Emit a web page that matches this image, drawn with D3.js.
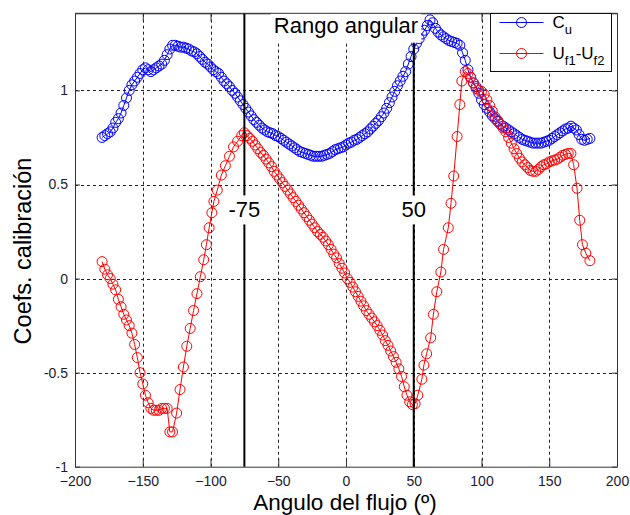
<!DOCTYPE html>
<html>
<head>
<meta charset="utf-8">
<script src="https://cdn.jsdelivr.net/npm/d3@7"></script>
<style>
  body { margin: 0; background: #fff; }
  text { font-family: "Liberation Sans", Arial, sans-serif; }
</style>
</head>
<body>
<div id="chart"></div>
<script>
// angles (deg) and values
const cuAngles = [
  -180,-178,-176,-174,-172,-170,-168,-166,-164,-162,-160,-158,-156,-154,-152,-150,-148,-146,-144,-142,
  -140,-138,-136,-134,-132,-130,-128,-126,-124,-122,-120,-118,-116,-114,-112,-110,-108,-106,-104,-102,
  -100,-98,-96,-94,-92,-90,-88,-86,-84,-82,-80,-78,-76,-74,-72,-70,-68,-66,-64,-62,
  -60,-58,-56,-54,-52,-50,-48,-46,-44,-42,-40,-38,-36,-34,-32,-30,-28,-26,-24,-22,
  -20,-18,-16,-14,-12,-10,-8,-6,-4,-2,0,2,4,6,8,10,12,14,16,18,
  20,22,24,26,28,30,32,34,36,38,40,42,44,46,48,50,52,54,56,58,
  60,62,64,66,68,70,72,74,76,78,80,82,84,86,88,90,92,94,96,98,
  100,102,104,106,108,110,112,114,116,118,120,122,124,126,128,130,132,134,136,138,
  140,142,144,146,148,150,152,154,156,158,160,162,164,166,168,170,172,174,176,178,180
];
const cuValues = [
  0.75,0.76,0.77,0.78,0.80,0.83,0.85,0.88,0.92,0.96,1.00,1.03,1.05,1.07,1.09,1.11,1.12,1.11,1.10,1.11,
  1.12,1.13,1.14,1.16,1.19,1.22,1.24,1.24,1.235,1.23,1.23,1.225,1.22,1.21,1.205,1.195,1.18,1.165,1.15,1.14,
  1.125,1.11,1.10,1.09,1.07,1.05,1.035,1.02,1.00,0.985,0.965,0.945,0.925,0.905,0.885,0.865,0.845,0.83,0.815,0.80,
  0.79,0.78,0.775,0.77,0.76,0.755,0.745,0.735,0.725,0.715,0.705,0.695,0.685,0.675,0.67,0.665,0.66,0.655,0.65,0.65,
  0.65,0.65,0.655,0.66,0.665,0.675,0.685,0.69,0.695,0.70,0.71,0.72,0.725,0.735,0.74,0.75,0.76,0.77,0.78,0.795,
  0.81,0.825,0.84,0.86,0.88,0.905,0.935,0.965,0.995,1.025,1.05,1.075,1.10,1.14,1.18,1.22,1.25,1.275,1.30,1.32,
  1.345,1.375,1.36,1.33,1.31,1.295,1.285,1.275,1.265,1.26,1.255,1.25,1.24,1.20,1.16,1.11,1.07,1.04,1.02,0.985,
  0.95,0.925,0.905,0.885,0.865,0.85,0.835,0.82,0.81,0.80,0.79,0.78,0.77,0.76,0.75,0.74,0.735,0.73,0.725,0.72,
  0.72,0.72,0.72,0.725,0.73,0.735,0.745,0.755,0.765,0.775,0.785,0.795,0.80,0.81,0.80,0.79,0.765,0.74,0.735,0.74,0.745
];

const ufAngles = [
  -180,-178,-176,-174,-172,-170,-168,-166,-164,-162,-160,-158,-156,-154,-152,-150,-148,-146,-144,-142,
  -140,-138,-136,-134,-132,-130,-128,-125,-122.5,-120,-117.5,-115,-112.5,-110,-107.5,-105,-103,-101,-99,-97.5,
  -95,-92,-89,-86,-83,-80,-77,-75,-73,-71,-69,-67,-65,-63,-61,-59,-57,-55,-53,-51,
  -49,-47,-45,-43,-41,-39,-37,-35,-33,-31,-29,-27,-25,-23,-21,-19,-17,-15,-13,-11,
  -9,-7,-5,-3,-1,1,3,5,7,9,11,13,15,17,19,21,23,25,27,29,
  31,33,35,37,39,41,43,45,47,49,51,53,56,57.5,59.5,62.5,64.5,67,70,72,
  75.5,77.5,79.5,82,84,85.5,88,90,92,94,96,98,100,102,104,106,108,110,112,114,
  116,118,120,122,124,126,128,130,132,134,136,138,140,142,144,146,148,150,152,154,
  156,158,160,162,164,166,168,170.5,172.5,174.5,177,180
];
const ufValues = [
  0.09,0.05,0.02,0.00,-0.03,-0.06,-0.11,-0.15,-0.19,-0.22,-0.25,-0.29,-0.35,-0.42,-0.50,-0.56,-0.62,-0.66,-0.69,-0.70,
  -0.70,-0.70,-0.69,-0.69,-0.69,-0.815,-0.815,-0.715,-0.59,-0.47,-0.36,-0.265,-0.17,-0.08,0.01,0.10,0.18,0.27,0.35,0.41,
  0.47,0.55,0.60,0.65,0.70,0.73,0.76,0.775,0.76,0.745,0.73,0.71,0.69,0.67,0.655,0.635,0.615,0.595,0.57,0.55,
  0.53,0.51,0.49,0.47,0.45,0.43,0.41,0.39,0.37,0.35,0.33,0.31,0.29,0.27,0.25,0.235,0.22,0.20,0.18,0.155,
  0.13,0.11,0.08,0.055,0.03,0.0,-0.02,-0.045,-0.07,-0.095,-0.12,-0.145,-0.17,-0.19,-0.21,-0.23,-0.25,-0.275,-0.30,-0.33,
  -0.355,-0.385,-0.415,-0.445,-0.48,-0.52,-0.575,-0.62,-0.655,-0.67,-0.665,-0.62,-0.535,-0.46,-0.40,-0.315,-0.19,-0.07,0.035,0.155,
  0.27,0.40,0.545,0.755,0.925,1.05,1.10,1.09,1.07,1.04,1.01,1.00,0.995,0.98,0.95,0.92,0.89,0.86,0.84,0.82,
  0.80,0.78,0.75,0.72,0.69,0.665,0.64,0.62,0.605,0.59,0.575,0.57,0.57,0.58,0.595,0.605,0.61,0.62,0.625,0.63,
  0.635,0.645,0.655,0.66,0.665,0.665,0.605,0.48,0.31,0.18,0.135,0.095
];

const xTicks = [-200, -150, -100, -50, 0, 50, 100, 150, 200];
const yTicks = [-1, -0.5, 0, 0.5, 1];
const rangeLimits = [-75, 50];

const W = 630, H = 515;
const margin = { left: 75, right: 13, top: 13.3, bottom: 48.3 };

const svg = d3.select("#chart").append("svg")
  .attr("width", W)
  .attr("height", H);

const x = d3.scaleLinear().domain([-200, 200]).range([margin.left, W - margin.right]);
const y = d3.scaleLinear().domain([-1, 1.41]).range([H - margin.bottom, margin.top]);

// grid
const grid = svg.append("g")
  .attr("stroke", "#222")
  .attr("stroke-width", 1)
  .attr("stroke-dasharray", "3,3");
grid.selectAll("line.gx")
  .data(xTicks.slice(1, -1))
  .enter().append("line")
  .attr("x1", d => Math.round(x(d)) + 0.5).attr("x2", d => Math.round(x(d)) + 0.5)
  .attr("y1", y.range()[0]).attr("y2", y.range()[1]);
grid.selectAll("line.gy")
  .data(yTicks.slice(1))
  .enter().append("line")
  .attr("y1", d => Math.round(y(d)) + 0.5).attr("y2", d => Math.round(y(d)) + 0.5)
  .attr("x1", x.range()[0]).attr("x2", x.range()[1]);

// axes, ticks inside
svg.append("g")
  .attr("transform", `translate(0,${y.range()[0]})`)
  .call(d3.axisBottom(x).tickValues(xTicks).tickSizeInner(-8).tickSizeOuter(0).tickPadding(9));
svg.append("g")
  .attr("transform", `translate(${x.range()[0]},0)`)
  .call(d3.axisLeft(y).tickValues(yTicks).tickSizeInner(-5).tickSizeOuter(0).tickPadding(7)
    .tickFormat(d => d));
svg.append("g")
  .attr("transform", `translate(0,${y.range()[1]})`)
  .call(d3.axisTop(x).tickValues(xTicks).tickSizeInner(-8).tickSizeOuter(0).tickFormat(""));
svg.append("g")
  .attr("transform", `translate(${x.range()[1]},0)`)
  .call(d3.axisRight(y).tickValues(yTicks).tickSizeInner(-5).tickSizeOuter(0).tickFormat(""));

svg.selectAll(".domain").attr("stroke", "#333");
svg.selectAll(".tick line").attr("stroke", "#333");
svg.selectAll(".tick text")
  .attr("font-size", 14)
  .attr("fill", "#1a1a33")
  .attr("font-family", "Liberation Sans, Arial, sans-serif");

// series
const lineGen = d3.line().x(d => x(d[0])).y(d => y(d[1]));

function drawSeries(angles, values, color) {
  const pts = angles.map((a, i) => [a, values[i]]);
  const g = svg.append("g");
  g.append("path")
    .datum(pts)
    .attr("fill", "none")
    .attr("stroke", color)
    .attr("stroke-width", 1)
    .attr("d", lineGen);
  g.selectAll("circle")
    .data(pts)
    .enter().append("circle")
    .attr("cx", d => x(d[0]))
    .attr("cy", d => y(d[1]))
    .attr("r", 5)
    .attr("fill", "none")
    .attr("stroke", color)
    .attr("stroke-width", 1);
}
drawSeries(cuAngles, cuValues, "#0000ff");
drawSeries(ufAngles, ufValues, "#ff0000");

// range limit lines
svg.selectAll("line.limit")
  .data(rangeLimits)
  .enter().append("line")
  .attr("x1", d => x(d)).attr("x2", d => x(d))
  .attr("y1", y.range()[0]).attr("y2", y.range()[1])
  .attr("stroke", "#000")
  .attr("stroke-width", 2);

// labels with white background
function boxedLabel(tx, ty, str, size, padBottom) {
  const t = svg.append("text")
    .attr("x", tx).attr("y", ty)
    .attr("text-anchor", "middle")
    .attr("font-size", size)
    .attr("fill", "#000")
    .text(str);
  const bb = t.node().getBBox();
  svg.insert("rect", () => t.node())
    .attr("x", bb.x - 3).attr("y", bb.y - 2)
    .attr("width", bb.width + 6).attr("height", bb.height + 2 + padBottom)
    .attr("fill", "#fff");
}
rangeLimits.forEach(d => boxedLabel(x(d), y(0.325), String(d), 22, 2));
boxedLabel(x(0), y(1.307), "Rango angular", 22, 5);

// redraw the top frame line over the title box
svg.append("line")
  .attr("x1", x.range()[0]).attr("x2", x.range()[1])
  .attr("y1", y.range()[1]).attr("y2", y.range()[1])
  .attr("stroke", "#333");

// axis titles
svg.append("text")
  .attr("x", x(0) - 1).attr("y", 510)
  .attr("text-anchor", "middle")
  .attr("font-size", 22.5)
  .text("Angulo del flujo (º)");
svg.append("text")
  .attr("transform", `translate(31,${(y.range()[0] + y.range()[1]) / 2 + 11}) rotate(-90)`)
  .attr("text-anchor", "middle")
  .attr("font-size", 23.5)
  .text("Coefs. calibración");

// legend
const lg = svg.append("g").attr("transform", "translate(490.5,13.5)");
lg.append("rect")
  .attr("width", 121).attr("height", 58)
  .attr("fill", "#fff").attr("stroke", "#111");
const legendItems = [
  { color: "#0000ff", parts: [["C", 0], ["u", 1]] },
  { color: "#ff0000", parts: [["U", 0], ["f1", 1], ["-U", 0], ["f2", 1]] }
];
legendItems.forEach((it, i) => {
  const cy = 9 + i * 31;
  lg.append("line")
    .attr("x1", 9).attr("x2", 53).attr("y1", cy).attr("y2", cy)
    .attr("stroke", it.color);
  lg.append("circle")
    .attr("cx", 31).attr("cy", cy).attr("r", 5)
    .attr("fill", "none").attr("stroke", it.color);
  const t = lg.append("text")
    .attr("x", 62).attr("y", cy + 5)
    .attr("font-size", 17)
    .attr("fill", "#000");
  let low = false;
  it.parts.forEach(([s, sub]) => {
    const shift = sub && !low ? 6 : (!sub && low ? -6 : 0);
    t.append("tspan")
      .attr("dy", shift)
      .attr("font-size", sub ? 13 : 17)
      .text(s);
    low = !!sub;
  });
});
</script>
</body>
</html>
